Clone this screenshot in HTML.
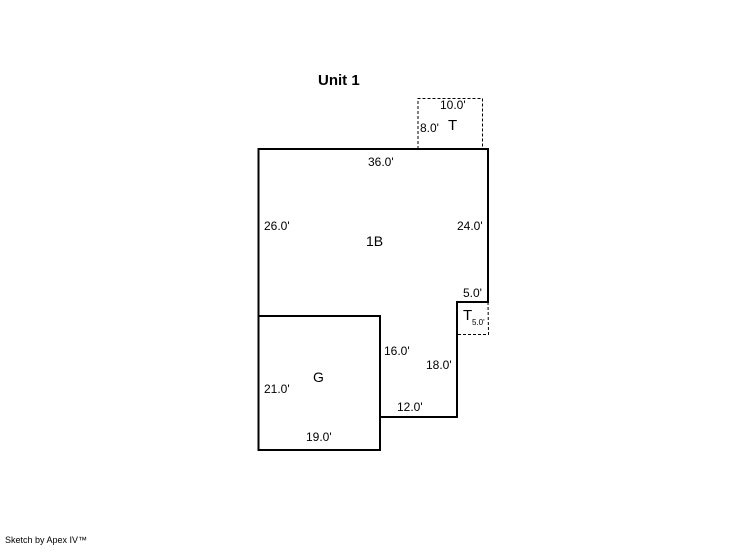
<!DOCTYPE html>
<html><head><style>
body{margin:0;background:#fff;width:746px;height:547px;overflow:hidden}
svg text{font-family:"Liberation Sans",Arial,sans-serif;font-size:12px;fill:#000}
</style></head><body>
<svg width="746" height="547" viewBox="0 0 746 547">
<g fill="none" stroke="#000" stroke-width="1" stroke-dasharray="3,2">
<polyline points="418,149 418,98.5 482.5,98.5 482.5,149"/>
<polyline points="488,302 488.5,334.5 457,334.5"/>
</g>
<g fill="none" stroke="#000" stroke-width="2">
<polygon points="258.5,149 488,149 488,302 457,302 457,417 380,417 380,450 258.5,450"/>
<rect x="258.5" y="316" width="121.5" height="134"/>
</g>
<text x="318" y="85" style="font-weight:bold;font-size:15px">Unit 1</text>
<text x="440" y="109">10.0'</text>
<text x="420" y="132">8.0'</text>
<text x="448" y="130" style="font-size:15px">T</text>
<text x="368" y="166">36.0'</text>
<text x="264" y="230">26.0'</text>
<text x="457" y="230">24.0'</text>
<text x="366" y="246" style="font-size:14px">1B</text>
<text x="463" y="297">5.0'</text>
<text x="463" y="320" style="font-size:15px">T</text>
<text x="472" y="325" style="font-size:8px">5.0'</text>
<text x="384" y="355">16.0'</text>
<text x="426" y="369">18.0'</text>
<text x="313" y="382" style="font-size:14px">G</text>
<text x="264" y="393">21.0'</text>
<text x="397" y="411">12.0'</text>
<text x="306" y="441">19.0'</text>
<text x="5" y="543" style="font-size:9px">Sketch by Apex IV™</text>
</svg>
</body></html>
